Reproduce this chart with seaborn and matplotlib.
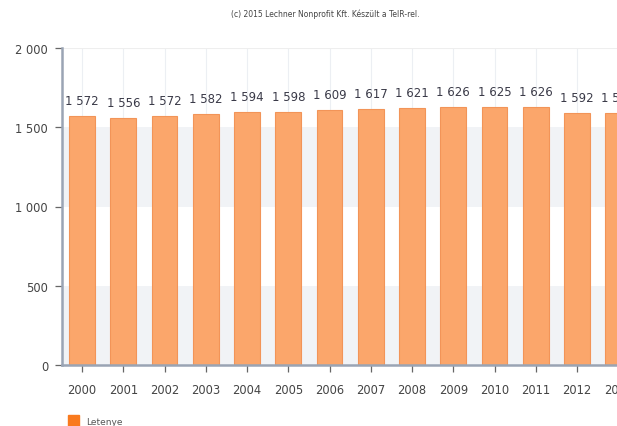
import matplotlib
matplotlib.use("Agg")
import matplotlib.pyplot as plt
import seaborn as sns
import pandas as pd
from matplotlib.patches import Patch

# Letenye population, 2000-2013
years = ["2000", "2001", "2002", "2003", "2004", "2005", "2006",
         "2007", "2008", "2009", "2010", "2011", "2012", "2013"]
values = [1572, 1556, 1572, 1582, 1594, 1598, 1609,
          1617, 1621, 1626, 1625, 1626, 1592, 1592]
series_name = "Letenye"
yticks = [0, 500, 1000, 1500, 2000]

df = pd.DataFrame({"year": years, "value": values})

sns.set_style("white")
plt.rcParams["font.family"] = ["DejaVu Sans"]

# one category is ~41 px wide; the plot runs past the right edge of the picture
cat_px = 41.25
x_left, x_right = -0.485, 13.5
fig = plt.figure(figsize=(6.17, 4.27), dpi=100)
ax = fig.add_axes([62 / 617, (427 - 366) / 427,
                   (x_right - x_left) * cat_px / 617, (366 - 49) / 427])

# alternating horizontal bands
for i in range(len(yticks) - 1):
    if i % 2 == 0:
        ax.axhspan(yticks[i], yticks[i + 1], color="#f1f3f6", zorder=0, lw=0)

# faint vertical grid at each category
for k in range(len(years)):
    ax.axvline(k, color="#eceff3", lw=0.8, zorder=1)
ax.axhline(2000, color="#eeeeee", lw=0.8, zorder=1)

sns.barplot(data=df, x="year", y="value", color="#fba66b", saturation=1,
            width=0.62, edgecolor="#f29458", linewidth=0.8, ax=ax, zorder=2)

for k, v in enumerate(values):
    lab = f"{v:,}".replace(",", " ")
    ax.annotate(lab, (k, v), xytext=(0, 6.5), textcoords="offset points",
                ha="center", va="bottom", fontsize=8.5, color="#3a3a48")

ax.set_xlim(x_left, x_right)
ax.set_ylim(0, 2000)
ax.set_yticks(yticks)
ax.set_yticklabels([f"{t:,}".replace(",", " ") for t in yticks])
ax.set_xlabel("")
ax.set_ylabel("")

for s in ["top", "right"]:
    ax.spines[s].set_visible(False)
for s in ["left", "bottom"]:
    ax.spines[s].set_color("#9aa4b4")
    ax.spines[s].set_linewidth(1.8)

ax.tick_params(axis="both", which="both", bottom=True, left=True, length=5,
               width=0.9, color="#666666", labelsize=8.3, labelcolor="#444444",
               direction="out")
ax.tick_params(axis="x", pad=8)
ax.tick_params(axis="y", pad=5)

fig.text(325 / 617, 1 - 14 / 427, "(c) 2015 Lechner Nonprofit Kft. Készült a TeIR-rel.",
         ha="center", va="center", fontsize=5.5, color="#444444")

fig.legend(handles=[Patch(facecolor="#f97a1e", edgecolor="#f97a1e", label=series_name)],
           loc="lower left", bbox_to_anchor=(60 / 617, -0.02), frameon=False,
           fontsize=6.5, handlelength=1.2, handleheight=1.6, handletextpad=0.8,
           labelcolor="#555555")

fig.savefig("out.png", dpi=100)
